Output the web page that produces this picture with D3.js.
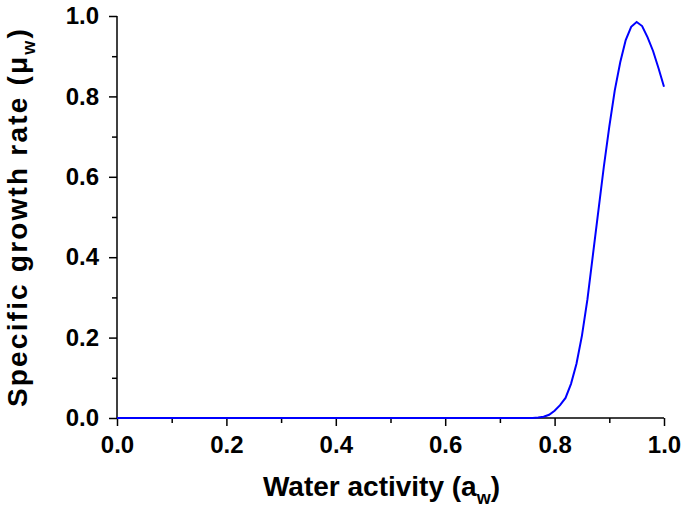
<!DOCTYPE html>
<html>
<head>
<meta charset="utf-8">
<script src="https://cdn.jsdelivr.net/npm/d3@7"></script>
<style>
  body { margin: 0; background: #fff; }
  text { font-family: "Liberation Sans", Arial, sans-serif; font-weight: bold; }
</style>
</head>
<body>
<svg width="682" height="512"></svg>
<script>
// water activity values and the growth rate
const aw = [0.0, 0.70, 0.75, 0.76, 0.77, 0.78, 0.79, 0.80, 0.81, 0.82, 0.83, 0.84, 0.85,
  0.86, 0.87, 0.88, 0.89, 0.90, 0.91, 0.92, 0.93, 0.94, 0.95, 0.96, 0.97, 0.98, 0.99, 1.00]
const mu = [0.0, 0.0, 0.0, 0.0, 0.001, 0.003, 0.008, 0.018, 0.032, 0.050, 0.085, 0.135, 0.205,
  0.295, 0.405, 0.515, 0.625, 0.725, 0.815, 0.885, 0.940, 0.973, 0.985, 0.975, 0.947, 0.913, 0.870, 0.824]
const xTicks = [0, 0.2, 0.4, 0.6, 0.8, 1.0]
const yTicks = [0, 0.2, 0.4, 0.6, 0.8, 1.0]
const minorTicks = [0.1, 0.3, 0.5, 0.7, 0.9]

const svg = d3.select('svg')
const margin = {left: 117, top: 16, right: 18, bottom: 94}
const width = +svg.attr('width'), height = +svg.attr('height')
const innerWidth = width - margin.left - margin.right
const innerHeight = height - margin.top - margin.bottom

const x = d3.scaleLinear().domain([0, 1]).range([0, innerWidth])
const y = d3.scaleLinear().domain([0, 1]).range([innerHeight, 0])

const g = svg.append('g').attr('transform', `translate(${margin.left},${margin.top})`)

// minor ticks (no labels)
g.append('g').attr('transform', `translate(0,${innerHeight})`)
  .call(d3.axisBottom(x).tickValues(minorTicks).tickSize(5).tickFormat(''))
g.append('g')
  .call(d3.axisLeft(y).tickValues(minorTicks).tickSize(5).tickFormat(''))
g.selectAll('.tick text').remove()

// major ticks with labels
g.append('g').attr('transform', `translate(0,${innerHeight})`)
  .call(d3.axisBottom(x).tickValues(xTicks).tickSize(8).tickPadding(10).tickFormat(d3.format('.1f')))
g.append('g')
  .call(d3.axisLeft(y).tickValues(yTicks).tickSize(8).tickPadding(10).tickFormat(d3.format('.1f')))

g.selectAll('.tick line').attr('stroke', '#000').attr('stroke-width', 1.5)
g.selectAll('.tick text').attr('font-size', 24).attr('fill', '#000')
  .attr('font-family', '"Liberation Sans", Arial, sans-serif').attr('font-weight', 'bold')

// plain axis lines instead of the d3 domain paths
g.selectAll('.domain').remove()
g.append('line').attr('x1', 0).attr('x2', innerWidth).attr('y1', innerHeight).attr('y2', innerHeight)
  .attr('stroke', '#000').attr('stroke-width', 1.5)
g.append('line').attr('x1', 0).attr('x2', 0).attr('y1', 0).attr('y2', innerHeight)
  .attr('stroke', '#000').attr('stroke-width', 1.5)

const data = aw.map((d, i) => ({aw: d, mu: mu[i]}))
g.append('path').datum(data)
  .attr('fill', 'none').attr('stroke', '#0000ff').attr('stroke-width', 2)
  .attr('d', d3.line().x(d => x(d.aw)).y(d => y(d.mu)))

// axis titles
const xt = svg.append('text').attr('x', margin.left + innerWidth / 2 - 9).attr('y', 496)
  .attr('text-anchor', 'middle').attr('font-size', 28)
xt.append('tspan').text('Water activity (a')
xt.append('tspan').attr('font-size', 18).attr('dy', 8).text('w')
xt.append('tspan').attr('dy', -8).text(')')

const yt = svg.append('text').attr('transform', `translate(27,${margin.top + innerHeight / 2}) rotate(-90)`)
  .attr('text-anchor', 'middle').attr('font-size', 28).attr('letter-spacing', 2.2)
yt.append('tspan').text('Specific growth rate (\u03bc')
yt.append('tspan').attr('font-size', 18).attr('dy', 8).text('w')
yt.append('tspan').attr('dy', -8).text(')')
</script>
</body>
</html>
